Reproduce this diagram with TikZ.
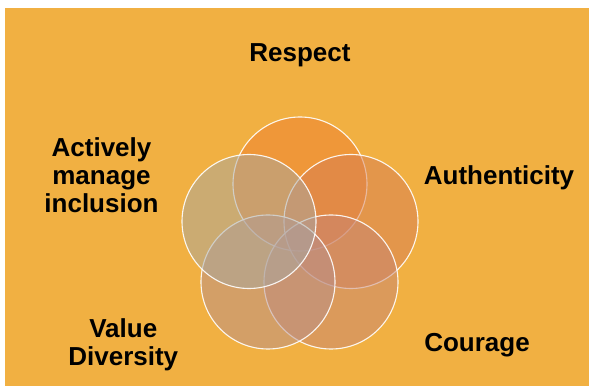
\documentclass[tikz,border=0pt]{standalone}
\usepackage{fontspec}
\setmainfont{Liberation Sans}
\definecolor{bgorange}{RGB}{241,176,66}
\definecolor{cTop}{RGB}{239,128,50}
\definecolor{cRight}{RGB}{215,126,84}
\definecolor{cBR}{RGB}{199,134,116}
\definecolor{cBL}{RGB}{183,144,140}
\definecolor{cLeft}{RGB}{167,168,162}
\begin{document}
\begin{tikzpicture}[x=1pt,y=-1pt,
  venn/.style={circle, inner sep=0pt, minimum size=134pt, draw=white, line width=1.1pt, fill opacity=0.5, draw opacity=0.9},
  lbl/.style={font=\fontsize{26}{28}\selectfont\bfseries, text=black, inner sep=0pt, align=center}]
\useasboundingbox (0,0) rectangle (589,387);
\fill[white] (0,0) rectangle (589,387);
\fill[bgorange] (5,8) rectangle (589,385.5);
% circles
\node[venn, fill=cTop]   (respect) at (300,184) {};
\node[venn, fill=cRight] (authen)  at (351,221.5) {};
\node[venn, fill=cBR]    (courage) at (331,282) {};
\node[venn, fill=cBL]    (value)   at (268,282) {};
\node[venn, fill=cLeft]  (active)  at (249,221.5) {};
% labels
\node[lbl, anchor=base] (tRespect) at (300,61.5) {Respect};
\node[lbl, anchor=base] (tAuthen) at (499,184.3) {Authenticity};
\node[lbl, anchor=base] (tCourage) at (477,351) {Courage};
\node[lbl, anchor=north] (tActive) at (101.5,137.4) {Actively\\manage\\inclusion};
\node[lbl, anchor=north] (tValue) at (123.3,318.6) {Value\\Diversity};
\end{tikzpicture}
\end{document}
